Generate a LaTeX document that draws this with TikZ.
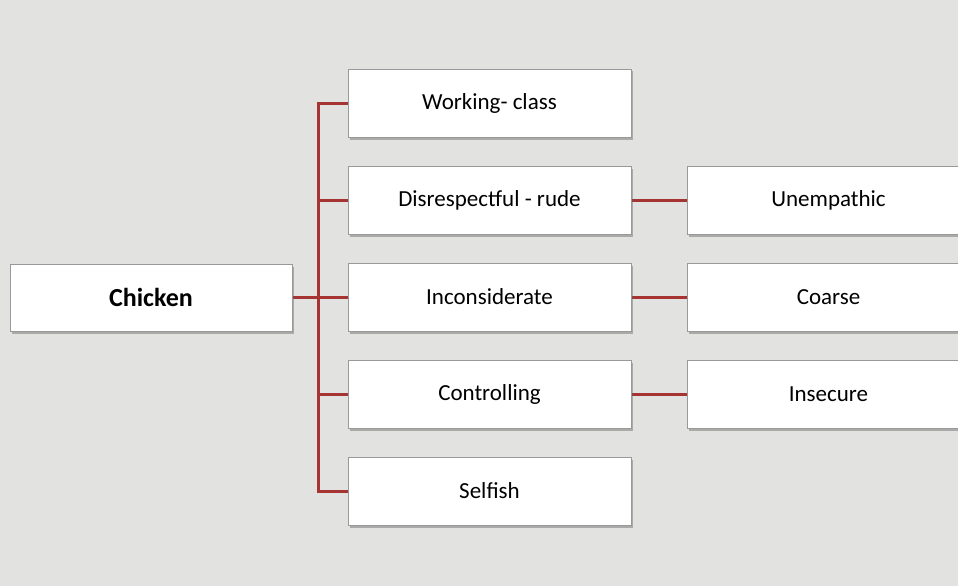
\documentclass[tikz,border=0pt]{standalone}
\usepackage{fontspec}
\setmainfont{Carlito}
\usetikzlibrary{shadows,backgrounds}
\definecolor{linkred}{RGB}{165,52,50}
\definecolor{paper}{RGB}{226,226,224}
\tikzset{
  % white card with a soft shadow, as on the slide
  card/.style={rectangle, draw=black!40, line width=0.8pt, fill=white,
    minimum width=283pt, minimum height=68pt, inner sep=0pt,
    font=\fontsize{23}{27}\selectfont,
    drop shadow={shadow xshift=1.5pt, shadow yshift=-2.5pt, opacity=0.45, fill=black!60}},
  rootcard/.style={card, minimum width=282pt, minimum height=67pt,
    font=\fontsize{26}{30}\selectfont\bfseries},
  link/.style={draw=linkred, line width=3pt},
}
\begin{document}
\begin{tikzpicture}[x=1pt, y=-1pt]

  \useasboundingbox (0,0) rectangle (958,586);

  \node [rootcard] at (151,297.5) (chicken) {Chicken};

  \node [card] at (489.5,103) (working) {Working- class};
  \node [card] at (489.5,200) (disrespect) {Disrespectful - rude};
  \node [card] at (489.5,297) (inconsid) {Inconsiderate};
  \node [card] at (489.5,394) (controlling) {Controlling};
  \node [card] at (489.5,491) (selfish) {Selfish};

  \node [card] at (828.5,200) (unempathic) {Unempathic};
  \node [card] at (828.5,297) (coarse) {Coarse};
  \node [card] at (828.5,394) (insecure) {Insecure};

  \begin{scope}[on background layer]
    \fill[paper] (0,0) rectangle (958,586);

    % trunk of the tree
    \coordinate (trunk) at (318,297);
    \draw [link] (chicken.east |- trunk) -- (trunk);
    \draw [link, line cap=rect] (working.west) -| (trunk) |- (selfish.west);
    \foreach \leaf in {disrespect, inconsid, controlling}
      \draw [link] (trunk |- \leaf.west) -- (\leaf.west);

    % second level
    \draw [link] (disrespect.east) -- (unempathic.west);
    \draw [link] (inconsid.east) -- (coarse.west);
    \draw [link] (controlling.east) -- (insecure.west);
  \end{scope}

\end{tikzpicture}
\end{document}
